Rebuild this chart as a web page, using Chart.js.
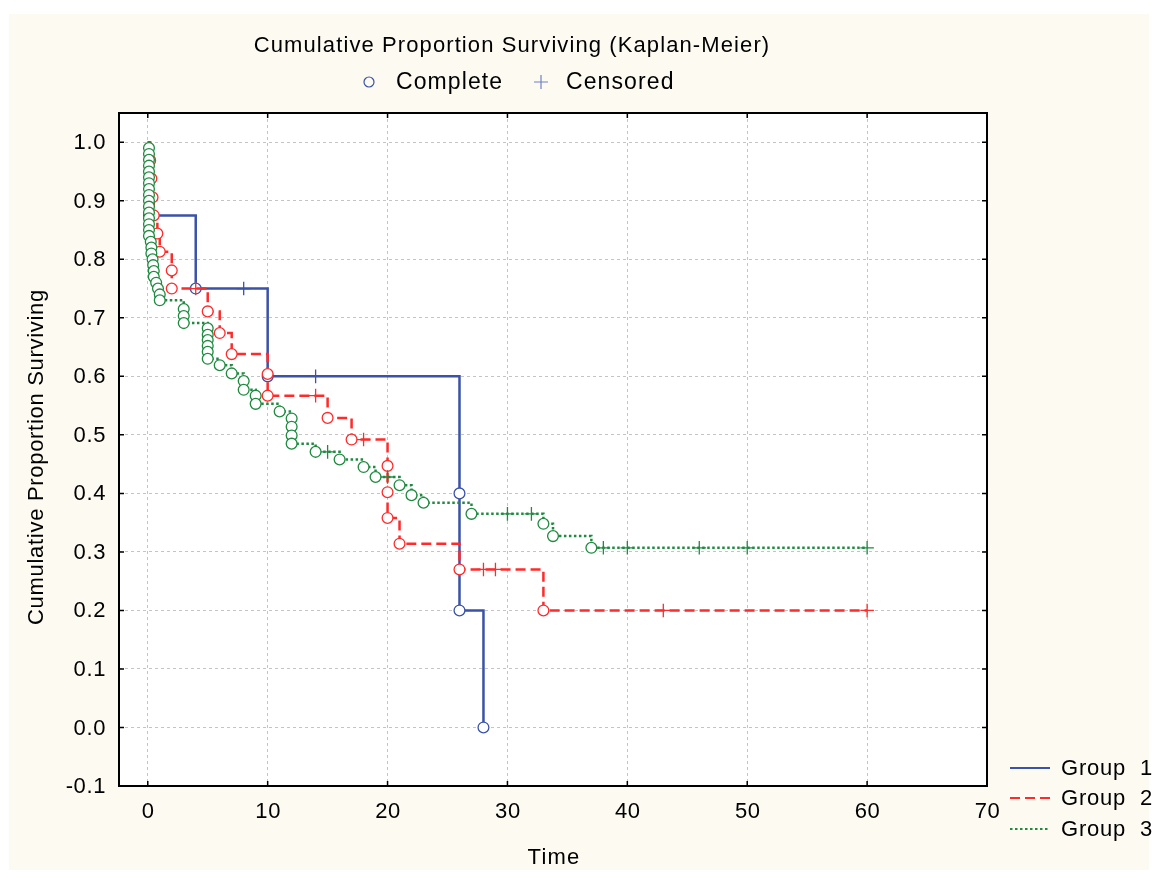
<!DOCTYPE html>
<html>
<head>
<meta charset="utf-8">
<script src="https://cdn.jsdelivr.net/npm/chart.js@4.4.0/dist/chart.umd.min.js"></script>
<style>
    html, body { margin: 0; padding: 0; background: #fff; }
    canvas { display: block; }
</style>
</head>
<body>
<canvas id="kmChart" width="1158" height="878"></canvas>
<script>
// axis ticks
const xTicks = [0, 10, 20, 30, 40, 50, 60, 70];
const yTicks = [-0.1, 0.0, 0.1, 0.2, 0.3, 0.4, 0.5, 0.6, 0.7, 0.8, 0.9, 1.0];

// kind: s = start, e = complete (event), c = censored
const group1Time = [0, 0.1, 4, 8, 10, 14, 26, 26, 28];
const group1Surv = [1.0, 0.875, 0.75, 0.75, 0.6, 0.6, 0.4, 0.2, 0.0];
const group1Kind = ["s", "e", "e", "c", "e", "c", "e", "e", "e"];

const group2Time = [0, 0.2, 0.3, 0.4, 0.5, 0.8, 1.0, 2, 2, 4, 5, 6, 7, 10, 10, 14, 15, 17, 18,
    20, 20, 20, 21, 26, 28, 29, 33, 43, 60];
const group2Surv = [1.0, 0.969, 0.938, 0.906, 0.875, 0.844, 0.813, 0.781, 0.75, 0.75, 0.711, 0.674,
    0.638, 0.604, 0.567, 0.567, 0.529, 0.492, 0.492, 0.447, 0.402, 0.358, 0.314, 0.27, 0.27, 0.27,
    0.2, 0.2, 0.2];
const group2Kind = ["s", "e", "e", "e", "e", "e", "e", "e", "e", "c", "e", "e", "e", "e", "e", "c",
    "e", "e", "c", "e", "e", "e", "e", "e", "c", "c", "e", "c", "c"];

const group3Time = [0, 0.1, 0.1, 0.1, 0.1, 0.1, 0.1, 0.1, 0.1, 0.1, 0.1, 0.1, 0.1, 0.1, 0.1, 0.1, 0.1,
    0.25, 0.3, 0.3, 0.4, 0.45, 0.5, 0.5, 0.7, 0.85, 1.0, 1.0, 3, 3, 3, 5, 5, 5, 5, 5, 5, 6, 7, 8, 8,
    9, 9, 11, 12, 12, 12, 12, 14, 15, 16, 18, 19, 20, 21, 22, 23, 27, 30, 32, 33, 33.8, 37, 38, 40,
    46, 50, 60];
const group3Surv = [1.0, 0.99, 0.98, 0.97, 0.96, 0.95, 0.94, 0.93, 0.92, 0.91, 0.90, 0.89, 0.88,
    0.87, 0.86, 0.85, 0.84, 0.83, 0.82, 0.81, 0.80, 0.79, 0.78, 0.77, 0.76, 0.75, 0.74, 0.73, 0.715,
    0.703, 0.691, 0.682, 0.671, 0.662, 0.652, 0.642, 0.63, 0.619, 0.605, 0.592, 0.577, 0.567, 0.553,
    0.54, 0.528, 0.514, 0.499, 0.485, 0.471, 0.471, 0.458, 0.445, 0.428, 0.428, 0.414, 0.397, 0.384,
    0.365, 0.365, 0.365, 0.348, 0.327, 0.307, 0.307, 0.307, 0.307, 0.307, 0.307];
const group3Kind = ["s", "e", "e", "e", "e", "e", "e", "e", "e", "e", "e", "e", "e", "e", "e", "e",
    "e", "e", "e", "e", "e", "e", "e", "e", "e", "e", "e", "e", "e", "e", "e", "e", "e", "e", "e",
    "e", "e", "e", "e", "e", "e", "e", "e", "e", "e", "e", "e", "e", "e", "c", "e", "e", "e", "c",
    "e", "e", "e", "e", "c", "c", "e", "e", "e", "c", "c", "c", "c", "c"];

const groupNames = ["Group  1", "Group  2", "Group  3"];
const colors = ["#3a52a8", "#ff2b2b", "#1f8a40"];
const dashes = [[], [10, 5], [2.5, 2.5]];

const FONT = '"Liberation Sans", Arial, sans-serif';

function makeDataset(i, times, surv, kinds, order) {
    return {
        label: groupNames[i],
        data: times.map((t, j) => ({ x: t, y: surv[j] })),
        borderColor: colors[i],
        borderWidth: 2.5,
        borderDash: dashes[i],
        stepped: "before",
        fill: false,
        order: order,
        pointStyle: kinds.map(k => k === "c" ? "cross" : "circle"),
        pointRadius: kinds.map(k => k === "s" ? 0 : (k === "c" ? 6.8 : 5.4)),
        pointBorderColor: colors[i],
        pointBackgroundColor: "#ffffff",
        pointBorderWidth: 1.3
    };
}

// spaced text, like the original renderer
function spacedText(ctx, text, x, y, size, spacing) {
    ctx.font = size + "px " + FONT;
    ctx.letterSpacing = spacing + "px";
    ctx.fillText(text, x, y);
    ctx.letterSpacing = "0px";
}

const decor = {
    id: "decor",
    beforeDraw(chart) {
        const ctx = chart.ctx;
        const a = chart.chartArea;
        ctx.save();
        ctx.fillStyle = "#ffffff";
        ctx.fillRect(0, 0, chart.width, chart.height);
        ctx.fillStyle = "#fdfaf1";
        ctx.fillRect(9, 14, chart.width - 18, chart.height - 22);
        ctx.fillStyle = "#ffffff";
        ctx.fillRect(a.left, a.top, a.right - a.left, a.bottom - a.top);
        ctx.restore();
    },
    afterDraw(chart) {
        const ctx = chart.ctx;
        const a = chart.chartArea;
        const xs = chart.scales.x;
        const ys = chart.scales.y;
        ctx.save();

        // frame and inward tick marks
        ctx.strokeStyle = "#000";
        ctx.lineWidth = 2;
        ctx.strokeRect(a.left, a.top, a.right - a.left, a.bottom - a.top);
        ctx.lineWidth = 1.5;
        ctx.beginPath();
        xTicks.forEach(v => {
            const px = xs.getPixelForValue(v);
            ctx.moveTo(px, a.bottom); ctx.lineTo(px, a.bottom - 5);
            ctx.moveTo(px, a.top); ctx.lineTo(px, a.top + 5);
        });
        yTicks.forEach(v => {
            const py = ys.getPixelForValue(v);
            ctx.moveTo(a.left, py); ctx.lineTo(a.left + 5, py);
            ctx.moveTo(a.right, py); ctx.lineTo(a.right - 5, py);
        });
        ctx.stroke();

        ctx.fillStyle = "#000";
        ctx.textBaseline = "middle";

        // tick labels
        ctx.textAlign = "right";
        yTicks.forEach(v => {
            spacedText(ctx, v.toFixed(1), 106, ys.getPixelForValue(v) + 1, 22, 0.6);
        });
        ctx.textAlign = "center";
        xTicks.forEach(v => {
            spacedText(ctx, String(v), xs.getPixelForValue(v) + 0.5, a.bottom + 26, 22, 0.6);
        });

        // title
        spacedText(ctx, "Cumulative Proportion Surviving (Kaplan-Meier)", 512, 46, 22, 1.1);

        // marker legend
        ctx.textAlign = "left";
        ctx.strokeStyle = "#3a52a8";
        ctx.lineWidth = 1.2;
        ctx.beginPath();
        ctx.arc(369, 82, 5, 0, Math.PI * 2);
        ctx.stroke();
        spacedText(ctx, "Complete", 396, 83, 23, 1.1);
        ctx.strokeStyle = "#6f80c8";
        ctx.beginPath();
        ctx.moveTo(534, 82); ctx.lineTo(548, 82);
        ctx.moveTo(541, 75); ctx.lineTo(541, 89);
        ctx.stroke();
        spacedText(ctx, "Censored", 566, 83, 23, 1.1);

        // group legend
        const ly = [768, 798, 829];
        groupNames.forEach((name, i) => {
            ctx.strokeStyle = colors[i];
            ctx.lineWidth = i === 0 ? 2 : 1.8;
            ctx.setLineDash(dashes[i]);
            ctx.beginPath();
            ctx.moveTo(1010, ly[i]); ctx.lineTo(1050, ly[i]);
            ctx.stroke();
            ctx.setLineDash([]);
            spacedText(ctx, name, 1061, ly[i] + 1, 22, 0.8);
        });

        // axis titles
        ctx.textAlign = "center";
        spacedText(ctx, "Time", 554, 858, 22, 1.2);
        ctx.translate(37, 457);
        ctx.rotate(-Math.PI / 2);
        spacedText(ctx, "Cumulative Proportion Surviving", 0, 0, 22, 0.7);
        ctx.restore();
    }
};

const ctx = document.getElementById("kmChart").getContext("2d");
new Chart(ctx, {
    type: "line",
    data: {
        datasets: [
            makeDataset(0, group1Time, group1Surv, group1Kind, 3),
            makeDataset(1, group2Time, group2Surv, group2Kind, 2),
            makeDataset(2, group3Time, group3Surv, group3Kind, 1)
        ]
    },
    options: {
        responsive: false,
        devicePixelRatio: 1,
        animation: false,
        events: [],
        layout: { padding: { top: 113, right: 171, left: 0, bottom: 0 } },
        plugins: {
            legend: { display: false },
            title: { display: false },
            tooltip: { enabled: false }
        },
        scales: {
            x: {
                type: "linear",
                min: -2.4,
                max: 70,
                afterFit: scale => { scale.height = 92; },
                afterBuildTicks: scale => { scale.ticks = xTicks.map(v => ({ value: v })); },
                grid: { color: "#c4c4c4", lineWidth: 1, drawTicks: false },
                border: { display: false, dash: [3, 3] },
                ticks: { display: false }
            },
            y: {
                type: "linear",
                min: -0.1,
                max: 1.05,
                afterFit: scale => { scale.width = 119; },
                afterBuildTicks: scale => { scale.ticks = yTicks.map(v => ({ value: v })); },
                grid: { color: "#c4c4c4", lineWidth: 1, drawTicks: false },
                border: { display: false, dash: [3, 3] },
                ticks: { display: false }
            }
        }
    },
    plugins: [decor]
});
</script>
</body>
</html>
